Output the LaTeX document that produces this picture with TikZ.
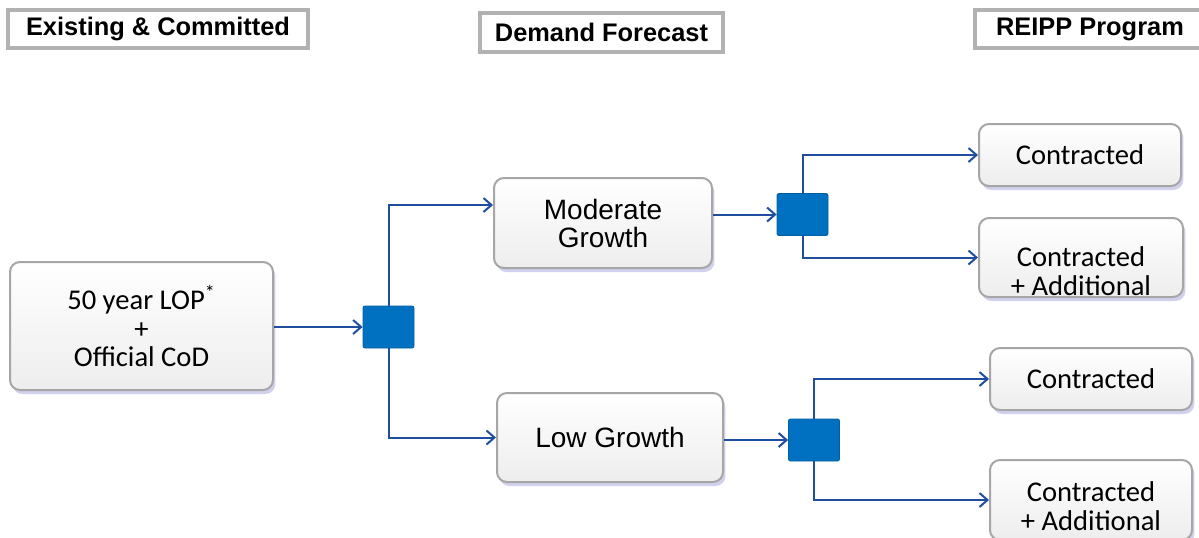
\documentclass[tikz,border=0pt]{standalone}
\usepackage{fontspec}
\setmainfont{Liberation Sans}
\newfontfamily\calfont{Carlito}
\usetikzlibrary{arrows.meta,shadows}
\definecolor{flowblue}{HTML}{1F4E9E}
\definecolor{hubblue}{HTML}{0070C0}
\definecolor{boxedge}{HTML}{A6A6A6}
\begin{document}
\begin{tikzpicture}[x=0.5pt,y=-0.5pt,
  head/.style={draw=gray!60, line width=2pt, fill=white, inner sep=0pt,
    drop shadow={fill=gray!70, opacity=0.5, shadow xshift=0.8pt, shadow yshift=-0.8pt},
    font=\bfseries\fontsize{12.7}{14}\selectfont},
  optbox/.style={draw=boxedge, line width=1pt, rounded corners=5pt, inner sep=0pt,
    top color=white, bottom color=gray!14, align=center,
    drop shadow={fill=blue!45!gray, opacity=0.25, shadow xshift=1.2pt, shadow yshift=-2pt}},
  caltext/.style={align=center, font=\calfont\fontsize{14.3}{14.3}\selectfont},
  sanstext/.style={align=center, font=\fontsize{14}{14}\selectfont},
  hub/.style={fill=hubblue, draw=hubblue!85!black, rounded corners=1pt,
    minimum width=25.5pt, minimum height=21pt, inner sep=0pt},
  flow/.style={draw=flowblue, line width=1pt, -{Straight Barb[length=4pt,width=7pt]}}]
\useasboundingbox (0,0) rectangle (1199,537);

\node[head, minimum width=150pt, minimum height=19pt] (hexist) at (158,29) {Existing \& Committed};
\node[head, minimum width=121.5pt, minimum height=19.5pt] (hdemand) at (601.5,32.5) {Demand Forecast};
\node[head, minimum width=115pt, minimum height=19pt] (hreipp) at (1090,29) {REIPP Program};

\node[optbox, caltext, minimum width=131.5pt, minimum height=64pt] (lop) at (141.5,326)
  {50 year LOP\textsuperscript{*}\\+\\Official CoD};
\node[optbox, sanstext, minimum width=109pt, minimum height=45pt] (modgr) at (603,223) {Moderate\\Growth};
\node[optbox, sanstext, minimum width=113pt, minimum height=44.5pt] (lowgr) at (610,437.5) {Low Growth};

\node[hub] (sqa) at (388.5,327) {};
\node[hub] (sqb) at (802.5,214.5) {};
\node[hub] (sqc) at (814,440) {};

\node[optbox, caltext, minimum width=101pt, minimum height=31pt] (con1) at (1080,155) {Contracted};
\node[optbox, minimum width=102pt, minimum height=39.5pt] (conadd1) at (1081,257.5) {};
\node[caltext] (conadd1txt) at (1081,271) {Contracted\\+ Additional};
\node[optbox, caltext, minimum width=101pt, minimum height=31pt] (con2) at (1091,379) {Contracted};
\node[optbox, minimum width=101pt, minimum height=40pt] (conadd2) at (1091,500) {};
\node[caltext] (conadd2txt) at (1091,506) {Contracted\\+ Additional};

\draw[flow] (lop.east |- sqa.west) -- (sqa.west);
\draw[flow] (sqa.north) |- ([yshift=9pt]modgr.west);
\draw[flow] (sqa.south) |- (lowgr.west);
\draw[flow] (modgr.east |- sqb.west) -- (sqb.west);
\draw[flow] (sqb.north) |- (con1.west);
\draw[flow] (sqb.south) |- (conadd1.west);
\draw[flow] (lowgr.east |- sqc.west) -- (sqc.west);
\draw[flow] (sqc.north) |- (con2.west);
\draw[flow] (sqc.south) |- (conadd2.west);
\end{tikzpicture}
\end{document}
